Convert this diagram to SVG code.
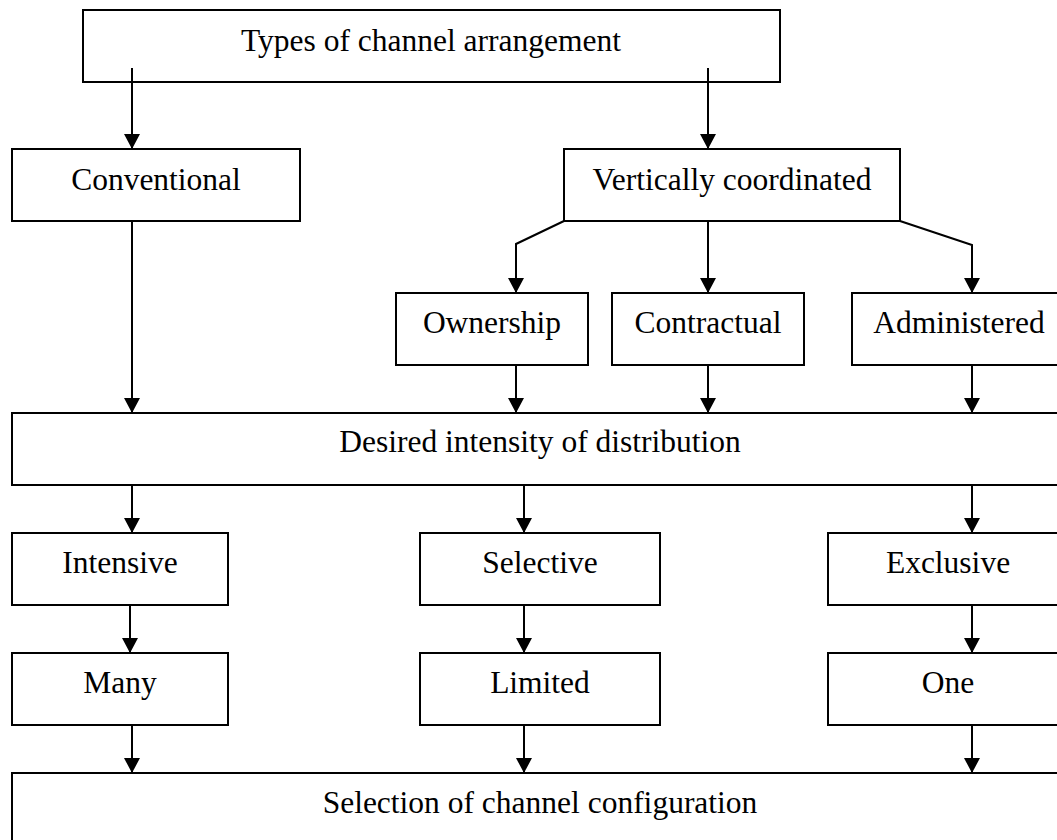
<svg xmlns="http://www.w3.org/2000/svg" width="1057" height="840" viewBox="0 0 1057 840">
<defs>
<marker id="ah" viewBox="0 0 15 16" refX="15" refY="8" markerWidth="15" markerHeight="16" markerUnits="userSpaceOnUse" orient="auto">
<path d="M0,0 L15,8 L0,16 Z" fill="#000"/>
</marker>
<style>
.box{fill:#fff;stroke:#000;stroke-width:2}
.lbl{font-family:"Liberation Serif","Times New Roman",serif;font-size:31.5px;fill:#000;text-anchor:middle}
.c{fill:none;stroke:#000;stroke-width:2;marker-end:url(#ah)}
</style>
</defs>
<rect width="1057" height="840" fill="#fff"/>
<g id="n-types"><rect class="box" x="83" y="10" width="697" height="72"/><text class="lbl" x="431" y="51">Types of channel arrangement</text></g>
<g id="n-conventional"><rect class="box" x="12" y="149" width="288" height="72"/><text class="lbl" x="156" y="190">Conventional</text></g>
<g id="n-vertical"><rect class="box" x="564" y="149" width="336" height="72"/><text class="lbl" x="732" y="190">Vertically coordinated</text></g>
<g id="n-ownership"><rect class="box" x="396" y="293" width="192" height="72"/><text class="lbl" x="492" y="333">Ownership</text></g>
<g id="n-contractual"><rect class="box" x="612" y="293" width="192" height="72"/><text class="lbl" x="708" y="333">Contractual</text></g>
<g id="n-administered"><rect class="box" x="852" y="293" width="214" height="72"/><text class="lbl" x="959" y="333">Administered</text></g>
<g id="n-desired"><rect class="box" x="12" y="413" width="1056" height="72"/><text class="lbl" x="540" y="452">Desired intensity of distribution</text></g>
<g id="n-intensive"><rect class="box" x="12" y="533" width="216" height="72"/><text class="lbl" x="120" y="573">Intensive</text></g>
<g id="n-selective"><rect class="box" x="420" y="533" width="240" height="72"/><text class="lbl" x="540" y="573">Selective</text></g>
<g id="n-exclusive"><rect class="box" x="828" y="533" width="240" height="72"/><text class="lbl" x="948" y="573">Exclusive</text></g>
<g id="n-many"><rect class="box" x="12" y="653" width="216" height="72"/><text class="lbl" x="120" y="693">Many</text></g>
<g id="n-limited"><rect class="box" x="420" y="653" width="240" height="72"/><text class="lbl" x="540" y="693">Limited</text></g>
<g id="n-one"><rect class="box" x="828" y="653" width="240" height="72"/><text class="lbl" x="948" y="693">One</text></g>
<g id="n-selection"><rect class="box" x="12" y="773" width="1056" height="80"/><text class="lbl" x="540" y="813">Selection of channel configuration</text></g>
<g id="connectors">
<path class="c" d="M132,68 V149"/>
<path class="c" d="M708,68 V149"/>
<path class="c" d="M132,221 V413"/>
<path class="c" d="M564,221 L516,244 V293"/>
<path class="c" d="M708,221 V293"/>
<path class="c" d="M900,221 L972,245 V293"/>
<path class="c" d="M516,365 V413"/>
<path class="c" d="M708,365 V413"/>
<path class="c" d="M972,365 V413"/>
<path class="c" d="M132,485 V533"/>
<path class="c" d="M524,485 V533"/>
<path class="c" d="M972,485 V533"/>
<path class="c" d="M130,605 V653"/>
<path class="c" d="M524,605 V653"/>
<path class="c" d="M972,605 V653"/>
<path class="c" d="M132,725 V773"/>
<path class="c" d="M524,725 V773"/>
<path class="c" d="M972,725 V773"/>
</g>
</svg>
